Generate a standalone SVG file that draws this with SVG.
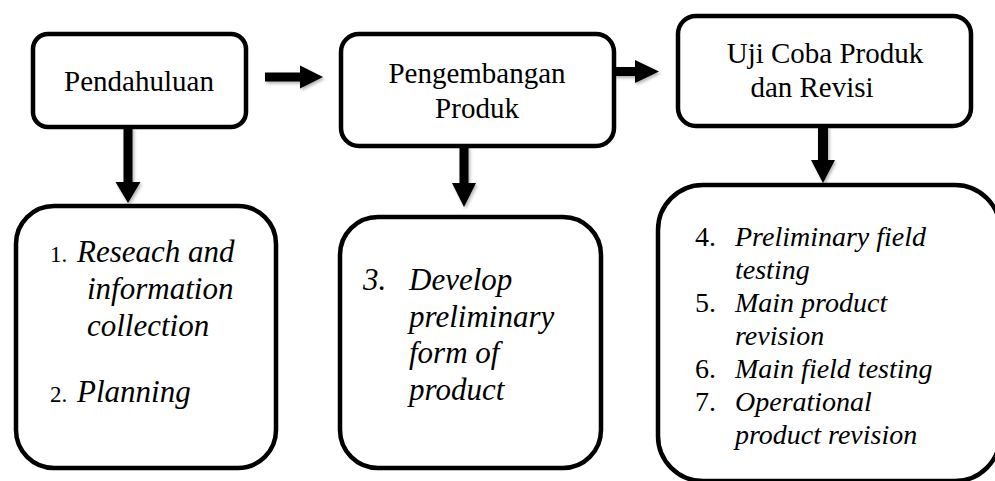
<svg xmlns="http://www.w3.org/2000/svg" width="995" height="481" viewBox="0 0 995 481">
  <style>
    .box { fill: #ffffff; stroke: #000000; stroke-width: 4.5; }
    .arrow { fill: #000000; stroke: none; }
    .t { font-family: "Liberation Serif", "Times New Roman", serif; fill: #000000; }
    .head { font-size: 29px; }
    .it { font-style: italic; }
  </style>
  <defs>
    <filter id="sh" x="-30%" y="-30%" width="160%" height="160%">
      <feDropShadow dx="1.5" dy="2" stdDeviation="1.5" flood-color="#000000" flood-opacity="0.3"/>
    </filter>
  </defs>
  <rect width="995" height="481" fill="#ffffff"/>

  <g id="connectors">
    <polygon class="arrow" filter="url(#sh)" points="265,72.5 300,72.5 300,65.5 323,77 300,88.5 300,81.5 265,81.5"/>
    <polygon class="arrow" filter="url(#sh)" points="614,67 635,67 635,60 659,71.5 635,83 635,76 614,76"/>
    <polygon class="arrow" filter="url(#sh)" points="123.5,127 132.5,127 132.5,182 140.5,182 128,203 115.5,182 123.5,182"/>
    <polygon class="arrow" filter="url(#sh)" points="459.5,146 468.5,146 468.5,183 476,183 464,207 452,183 459.5,183"/>
    <polygon class="arrow" filter="url(#sh)" points="818,126 828,126 828,160 835,160 823,183 811,160 818,160"/>
  </g>

  <g id="pendahuluan">
    <rect class="box" x="33" y="34" width="213" height="93" rx="15" ry="15"/>
    <text class="t head" x="139" y="91" text-anchor="middle">Pendahuluan</text>
  </g>

  <g id="pengembangan">
    <rect class="box" x="341" y="34" width="273" height="112" rx="18" ry="18"/>
    <text class="t head" x="477" y="83" text-anchor="middle">Pengembangan</text>
    <text class="t head" x="477" y="118" text-anchor="middle">Produk</text>
  </g>

  <g id="ujicoba">
    <rect class="box" x="678" y="16" width="293" height="110" rx="18" ry="18"/>
    <text class="t head" x="825" y="63" text-anchor="middle">Uji Coba Produk</text>
    <text class="t head" x="812" y="97" text-anchor="middle">dan Revisi</text>
  </g>

  <g id="steps-1-2">
    <rect class="box" x="16" y="206" width="260" height="262" rx="38" ry="38"/>
    <text class="t" x="50" y="262" font-size="23">1.</text>
    <text class="t it" x="77" y="262" font-size="31">Reseach and</text>
    <text class="t it" x="87" y="299" font-size="31">information</text>
    <text class="t it" x="87" y="336" font-size="31">collection</text>
    <text class="t" x="50" y="402" font-size="23">2.</text>
    <text class="t it" x="77" y="402" font-size="31">Planning</text>
  </g>

  <g id="step-3">
    <rect class="box" x="340" y="217" width="261" height="251" rx="38" ry="38"/>
    <text class="t it" x="363" y="290" font-size="31">3.</text>
    <text class="t it" x="409" y="290" font-size="31">Develop</text>
    <text class="t it" x="409" y="327" font-size="31">preliminary</text>
    <text class="t it" x="409" y="363" font-size="31">form of</text>
    <text class="t it" x="409" y="400" font-size="31">product</text>
  </g>

  <g id="steps-4-7">
    <rect class="box" x="658" y="185" width="342" height="296" rx="45" ry="45"/>
    <text class="t" x="695" y="246" font-size="28">4.</text>
    <text class="t it" x="735" y="246" font-size="28">Preliminary field</text>
    <text class="t it" x="735" y="279" font-size="28">testing</text>
    <text class="t" x="695" y="312" font-size="28">5.</text>
    <text class="t it" x="735" y="312" font-size="28">Main product</text>
    <text class="t it" x="735" y="345" font-size="28">revision</text>
    <text class="t" x="695" y="378" font-size="28">6.</text>
    <text class="t it" x="735" y="378" font-size="28">Main field testing</text>
    <text class="t" x="695" y="411" font-size="28">7.</text>
    <text class="t it" x="735" y="411" font-size="28">Operational</text>
    <text class="t it" x="735" y="444" font-size="28">product revision</text>
  </g>
</svg>
